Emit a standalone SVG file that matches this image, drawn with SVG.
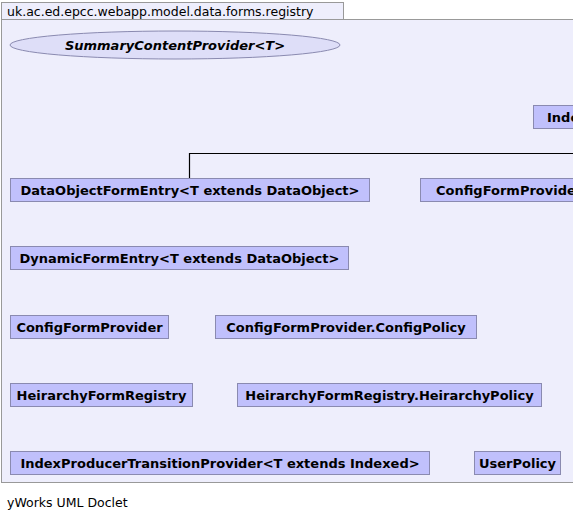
<svg xmlns="http://www.w3.org/2000/svg" width="573" height="520" viewBox="0 0 573 520">
<style>
.pkg{fill:#eeeefc;stroke:#999999;stroke-width:1}
.cls rect{fill:#c0c0fc;stroke:#8a8ab0;stroke-width:1}
.cls text{font-family:"DejaVu Sans",sans-serif;font-size:13px;font-weight:bold;fill:#000;text-anchor:middle}
.edge{fill:none;stroke:#000;stroke-width:1.2}
</style>
<rect width="573" height="520" fill="#ffffff"/>
<g id="package">
<rect class="pkg" x="1.5" y="2.5" width="342" height="17"/>
<rect class="pkg" x="1.5" y="19.5" width="575" height="463"/>
<text x="7" y="16" font-family="DejaVu Sans, sans-serif" font-size="12.5" fill="#000">uk.ac.ed.epcc.webapp.model.data.forms.registry</text>
</g>
<g id="connectors">
<path class="edge" d="M189.5,178 V153.5 H573"/>
</g>
<g id="SummaryContentProvider" class="cls">
<ellipse cx="175" cy="45" rx="165" ry="14" fill="#dedef8" stroke="#8a8ab0"/>
<text x="175" y="50" font-style="italic">SummaryContentProvider&lt;T&gt;</text>
</g>
<g id="Indexed" class="cls">
<rect x="533.5" y="105.5" width="60" height="23"/>
<text x="547" y="122" style="text-anchor:start">Index</text>
</g>
<g id="DataObjectFormEntry" class="cls">
<rect x="10.5" y="178.5" width="359" height="23"/>
<text x="190" y="195">DataObjectFormEntry&lt;T extends DataObject&gt;</text>
</g>
<g id="ConfigFormProviderRight" class="cls">
<rect x="420.5" y="178.5" width="200" height="23"/>
<text x="436" y="195" style="text-anchor:start">ConfigFormProvider</text>
</g>
<g id="DynamicFormEntry" class="cls">
<rect x="10.5" y="246.5" width="338" height="23"/>
<text x="179.5" y="263">DynamicFormEntry&lt;T extends DataObject&gt;</text>
</g>
<g id="ConfigFormProvider" class="cls">
<rect x="10.5" y="315.5" width="158" height="23"/>
<text x="89.5" y="332">ConfigFormProvider</text>
</g>
<g id="ConfigPolicy" class="cls">
<rect x="215.5" y="315.5" width="261" height="23"/>
<text x="346" y="332">ConfigFormProvider.ConfigPolicy</text>
</g>
<g id="HeirarchyFormRegistry" class="cls">
<rect x="10.5" y="383.5" width="182" height="23"/>
<text x="101.5" y="400">HeirarchyFormRegistry</text>
</g>
<g id="HeirarchyPolicy" class="cls">
<rect x="237.5" y="383.5" width="304" height="23"/>
<text x="389.5" y="400">HeirarchyFormRegistry.HeirarchyPolicy</text>
</g>
<g id="IndexProducerTransitionProvider" class="cls">
<rect x="10.5" y="451.5" width="419" height="23"/>
<text x="220" y="468">IndexProducerTransitionProvider&lt;T extends Indexed&gt;</text>
</g>
<g id="UserPolicy" class="cls">
<rect x="474.5" y="451.5" width="86" height="23"/>
<text x="517.5" y="468">UserPolicy</text>
</g>
<text x="7" y="507" font-family="DejaVu Sans, sans-serif" font-size="12.5" fill="#000">yWorks UML Doclet</text>
</svg>
